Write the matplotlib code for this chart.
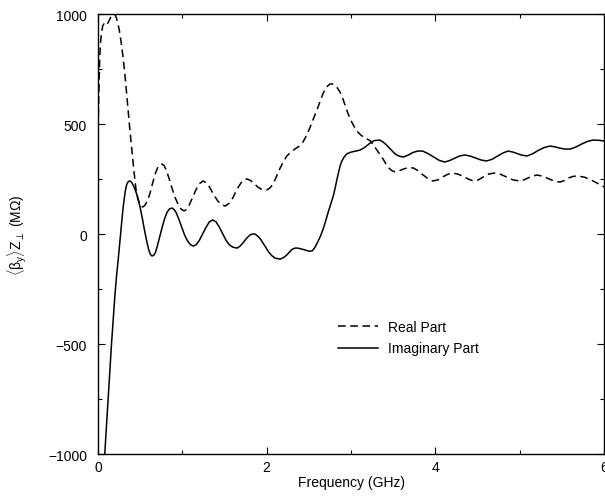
import numpy as np
import matplotlib
matplotlib.use("Agg")
import matplotlib.pyplot as plt
from matplotlib.ticker import MultipleLocator

plt.rcParams['font.family'] = ['Liberation Sans', 'DejaVu Sans']
plt.rcParams['mathtext.fontset'] = 'custom'
plt.rcParams['mathtext.rm'] = 'Liberation Sans'
plt.rcParams['mathtext.it'] = 'Liberation Sans'

# real part of the transverse impedance, (GHz, MOhm)
real_freq = [0.0, 0.01, 0.02, 0.03, 0.04, 0.055, 0.07, 0.085, 0.10, 0.125, 0.15, 0.17, 0.19,
             0.205, 0.22, 0.25, 0.275, 0.30, 0.325, 0.35, 0.375, 0.40, 0.425, 0.45, 0.47,
             0.49, 0.51, 0.53, 0.55, 0.57, 0.595, 0.62, 0.65, 0.68, 0.705, 0.73, 0.76,
             0.785, 0.81, 0.845, 0.88, 0.915, 0.95, 0.985, 1.02, 1.05, 1.08, 1.12, 1.16,
             1.20, 1.245, 1.285, 1.32, 1.37, 1.42, 1.465, 1.51, 1.555, 1.60, 1.65, 1.70,
             1.735, 1.77, 1.81, 1.85, 1.89, 1.93, 1.965, 2.00, 2.04, 2.08, 2.12, 2.16,
             2.20, 2.24, 2.285, 2.33, 2.38, 2.43, 2.475, 2.52, 2.56, 2.60, 2.635, 2.67,
             2.71, 2.75, 2.78, 2.81, 2.84, 2.87, 2.90, 2.93, 2.96, 2.99, 3.03, 3.07,
             3.11, 3.15, 3.19, 3.23, 3.265, 3.30, 3.34, 3.38, 3.415, 3.45, 3.485, 3.52,
             3.57, 3.62, 3.68, 3.74, 3.795, 3.85, 3.91, 3.97, 4.03, 4.09, 4.15, 4.21,
             4.27, 4.33, 4.39, 4.45, 4.51, 4.57, 4.635, 4.70, 4.77, 4.84, 4.92, 5.00,
             5.05, 5.10, 5.155, 5.21, 5.28, 5.35, 5.415, 5.48, 5.53, 5.58, 5.635, 5.69,
             5.77, 5.85, 5.925, 6.00]
real_val = [480, 650, 800, 870, 910, 945, 955, 950, 948, 965, 985, 996, 1000,
            995, 980, 932, 870, 795, 700, 591, 485, 386, 290, 205, 165,
            140, 127, 123, 128, 140, 160, 190, 235, 275, 300, 314, 318,
            310, 290, 250, 205, 165, 135, 113, 105, 112, 130, 165, 200,
            228, 241, 233, 215, 180, 150, 133, 127, 140, 165, 205, 235,
            247, 250, 243, 230, 215, 205, 200, 200, 210, 230, 265, 300,
            330, 355, 372, 385, 398, 418, 450, 490, 530, 568, 605, 640,
            668, 682, 682, 675, 663, 645, 618, 585, 552, 523, 493, 468,
            452, 440, 432, 423, 405, 385, 363, 341, 318, 300, 288, 283,
            287, 295, 302, 300, 288, 270, 252, 241, 246, 260, 272, 277,
            272, 262, 250, 241, 246, 260, 273, 277, 272, 260, 246, 241,
            246, 255, 264, 268, 262, 250, 240, 236, 243, 255, 262, 264,
            258, 245, 230, 214]

# imaginary part
imag_freq = [0.06, 0.08, 0.12, 0.16, 0.20, 0.22, 0.24, 0.26, 0.28, 0.295, 0.31, 0.325, 0.34,
             0.36, 0.38, 0.40, 0.42, 0.44, 0.46, 0.48, 0.50, 0.525, 0.55, 0.575, 0.60,
             0.62, 0.64, 0.66, 0.68, 0.70, 0.72, 0.74, 0.76, 0.79, 0.82, 0.85, 0.88,
             0.905, 0.93, 0.965, 1.00, 1.03, 1.06, 1.095, 1.13, 1.165, 1.20, 1.24, 1.28,
             1.32, 1.36, 1.40, 1.44, 1.48, 1.52, 1.56, 1.60, 1.65, 1.685, 1.72, 1.76,
             1.80, 1.83, 1.86, 1.895, 1.93, 1.975, 2.02, 2.06, 2.10, 2.16, 2.20, 2.24,
             2.27, 2.30, 2.335, 2.37, 2.41, 2.45, 2.50, 2.54, 2.57, 2.60, 2.635, 2.67,
             2.70, 2.73, 2.76, 2.79, 2.815, 2.84, 2.87, 2.89, 2.91, 2.93, 2.95, 2.99,
             3.03, 3.07, 3.11, 3.155, 3.20, 3.24, 3.28, 3.34, 3.38, 3.42, 3.47, 3.52,
             3.57, 3.62, 3.675, 3.73, 3.79, 3.85, 3.915, 3.98, 4.045, 4.11, 4.17, 4.23,
             4.29, 4.35, 4.415, 4.48, 4.545, 4.61, 4.675, 4.74, 4.80, 4.86, 4.915, 4.97,
             5.03, 5.09, 5.155, 5.22, 5.29, 5.36, 5.42, 5.48, 5.54, 5.60, 5.67, 5.74,
             5.805, 5.87, 5.935, 6.00]
imag_val = [-1150, -1000, -750, -500, -280, -190, -114, -30, 50, 110, 159, 198, 225,
            239, 241, 234, 220, 202, 180, 152, 120, 72, 20, -28, -70,
            -92, -100, -97, -85, -60, -30, 0, 30, 70, 100, 115, 118,
            110, 95, 60, 23, -8, -30, -48, -55, -48, -30, 0, 30,
            55, 64, 55, 30, 0, -30, -50, -60, -64, -55, -40, -20,
            -5, 0, 0, -10, -25, -52, -80, -98, -110, -114, -107, -95,
            -82, -70, -64, -64, -68, -72, -78, -77, -62, -40, -12, 23,
            60, 100, 137, 173, 215, 260, 309, 330, 345, 356, 364, 371,
            375, 378, 382, 392, 405, 417, 425, 427, 418, 405, 385, 365,
            354, 350, 358, 370, 377, 377, 365, 350, 335, 327, 334, 345,
            355, 359, 354, 345, 336, 332, 340, 355, 368, 377, 373, 366,
            358, 355, 365, 380, 393, 400, 396, 390, 386, 386, 396, 410,
            421, 427, 426, 423]

fig = plt.figure(figsize=(6.05, 5.02), dpi=100)
ax = fig.add_axes([0.162, 0.0936, 0.8364, 0.8765])

ax.plot(real_freq, real_val, color='black', lw=1.1, linestyle=(0, (5, 3)), label='Real Part')
ax.plot(imag_freq, imag_val, color='black', lw=1.1, label='Imaginary Part')

ax.set_xlim(0, 6)
ax.set_ylim(-1000, 1000)
ax.xaxis.set_major_locator(MultipleLocator(2))
ax.xaxis.set_minor_locator(MultipleLocator(1))
ax.yaxis.set_major_locator(MultipleLocator(500))
ax.yaxis.set_minor_locator(MultipleLocator(250))
ax.tick_params(which='both', direction='in', top=True, right=True, labelsize=10)
ax.tick_params(which='major', length=5, width=0.8)
ax.tick_params(which='minor', length=3, width=0.8)
ax.tick_params(axis='y', pad=8)
ax.tick_params(axis='x', pad=4)
for s in ax.spines.values():
    s.set_linewidth(1.0)

ax.set_xlabel('Frequency (GHz)', fontsize=10, labelpad=1)
ax.set_ylabel(r'$\langle\beta_y\rangle Z_\perp$ (M$\Omega$)', fontsize=10, labelpad=14)

ax.legend(loc='upper left', bbox_to_anchor=(0.474, 0.305), frameon=False, fontsize=10,
          borderpad=0, borderaxespad=0, handlelength=2.9, handletextpad=0.7, labelspacing=0.55)

fig.savefig('out.png', dpi=100)
